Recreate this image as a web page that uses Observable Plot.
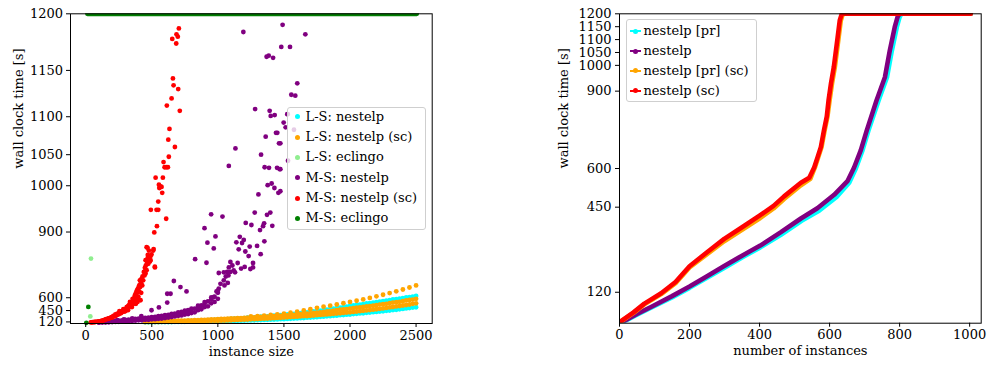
<!DOCTYPE html>
<html><head><meta charset="utf-8">
<script src="https://cdn.jsdelivr.net/npm/d3@7"></script>
<script src="https://cdn.jsdelivr.net/npm/@observablehq/plot@0.6"></script>
<style>
body{margin:0;background:#fff;}
#wrap{position:relative;width:987px;height:365px;font-family:"DejaVu Serif",serif;background:#fff;overflow:hidden;}
#wrap svg text{font-family:"DejaVu Serif",serif;}
#left,#right{position:absolute;top:0;}
#left{left:0}#right{left:480px}
.legend{position:absolute;background:rgba(255,255,255,0.8);border:1px solid #cfcfcf;border-radius:3px;box-sizing:border-box;font-size:13px;color:#000;}
.legend .lab{position:absolute;white-space:nowrap;line-height:14px;height:14px;}
.legend .dot{position:absolute;width:5px;height:5px;border-radius:50%;}
.legend .ln{position:absolute;height:2px;}
</style></head><body>
<div id="wrap"><div id="left"></div><div id="right"></div></div>
<script>
// ---------- tick labels ----------
const leftXTicks = [0, 500, 1000, 1500, 2000, 2500];
const rightXTicks = [0, 200, 400, 600, 800, 1000];
const yTicks = [120, 450, 600, 900, 1000, 1050, 1100, 1150, 1200];

// ---------- left panel: instance sizes ----------
const lsSizes = [450,500,550,600,650,700,750,800,850,900,950,1000,1050,1100,1150,1200,1250,1300,1350,1400,1450,1500,1550,1600,1650,1700,1750,1800,1850,1900,1950,2000,2050,2100,2150,2200,2250,2300,2350,2400,2450,2500];
const lsSizesMid = [475,525,575,625,675,725,775,825,875,925,975,1025,1075,1125,1175,1225,1275,1325,1375,1425,1475,1525,1575,1625,1675,1725,1775,1825,1875,1925,1975,2025,2075,2125,2175,2225,2275,2325,2375,2425,2475];
const lsSizesUpper = [1250,1300,1350,1400,1450,1500,1550,1600,1650,1700,1750,1800,1850,1900,1950,2000,2050,2100,2150,2200,2250,2300,2350,2400,2450,2500];

// L-S: nestelp (cyan)
const lsNestelpA = [125,130,136,142,150,158,166,176,186,198,212,228,242,256,270,285,300,314,328,342,356,370,384,398,413,428,442,456,470,486,500,515,526,537,548,558,568,578,588,597,606,615];
const lsNestelpA2 = [127,133,140,146,154,161,171,181,193,205,219,236,248,264,277,293,306,322,334,350,362,378,390,406,419,436,448,464,477,494,507,521,530,543,552,564,572,584,591,602,610];
const lsNestelpB = [97,103,109,115,121,127,133,139,145,149,150,155,165,175,185,195,205,215,225,235,245,256,269,282,295,308,321,334,347,360,373,386,398,410,422,434,446,458,470,482,494];
const lsNestelpC = [92,98,104,110,116,122,128,134,140,146,148,148,158,168,178,188,198,208,218,228,238,248,260,272,285,298,311,324,337,350,363,376,390,402,414,426,438,450,462,474,486,498];
// L-S: nestelp (sc) (orange)
const lsNestelpScA = [330,340,350,365,380,395,412,430,450,470,490,505,518,532,546,560,572,585,598,612,625,638,651,664,677,690];
const lsNestelpScB = [145,150,157,165,172,181,190,200,210,222,235,250,260,270,280,290,300,310,320,330,340,350,362,375,388,400,414,427,440,454,467,480,491,502,513,524,535,546,557,568,579,590];
const lsNestelpScD = [147,154,160,169,175,186,194,206,215,229,241,256,264,277,284,296,304,317,324,337,344,357,367,383,393,409,419,435,446,462,472,487,495,509,517,531,539,553,561,575,583];
const lsNestelpScC = [108,113,120,127,135,143,151,159,167,175,179,186,198,210,222,234,246,258,270,282,294,306,318,330,342,354,366,378,390,402,414,426,439,451,464,476,489,501,514,526,539];
const lsNestelpScE = [105,110,116,123,131,139,147,155,163,171,177,182,192,204,216,228,240,252,264,276,288,300,312,324,336,348,360,372,384,396,408,420,432,445,457,470,482,495,508,520,532,545];
// L-S: eclingo (light green)
const lsEclingo = [[40,817],[35,330]];

// M-S: nestelp (purple)
const msSizes = [100,150,200,250,300,350,400,450,500,550,600,650,700,750,800,850,900,950,1000];
const msSizesMid = [125,175,225,275,325,375,425,475,525,575,625,675,725,775,825,875,925,975];
const msNestelpBand = [101,115,135,160,185,212,240,260,279,302,325,352,380,410,440,502,540,585,640];
const msNestelpBandHigh = [112,132,156,186,214,242,268,292,312,338,362,388,418,448,478,518,558,602,656];
const msNestelpBandLow = [70,90,110,130,150,175,200,220,240,260,285,315,345,375,405,455,500,545,590];
const msNestelpUpper = [130,150,175,200,230,255,280,300,320,345,370,395,425,455,480,520,565,610];
const msNestelpLower = [80,100,120,140,160,185,205,225,245,270,300,330,355,385,420,470,510,560];
const msNestelpScatter = [[1490,1191],[1193,1185],[1662,1183],[1480,1172],[1546,1172],[1369,1163],[1385,1164],[1418,1162],[1601,1137],[1556,1125],[1586,1124],[1282,1109],[1392,1107],[1400,1101],[1430,1102],[1498,1093],[1513,1087],[1526,1103],[1440,1080],[1450,1080],[1362,1075],[1463,1066],[1133,1059],[1327,1050],[1083,1033],[1354,1031],[1387,1030],[1448,1030],[1468,1028],[1377,1001],[1407,1004],[1428,996],[1458,987],[1307,984],[1279,947],[1372,942],[1397,947],[949,943],[1035,938],[1211,923],[1254,918],[1342,915],[1412,916],[1319,905],[1350,922],[899,910],[982,888],[921,870],[969,852],[1140,871],[1166,887],[1196,878],[1241,858],[1297,860],[1352,874],[1324,833],[1158,849],[1233,826],[1266,800],[1208,842],[1183,869],[828,815],[914,801],[1095,804],[1083,782],[1120,769],[1176,777],[1203,784],[1266,782],[1246,775],[1007,757],[1045,760],[1070,762],[667,716],[617,633],[642,633],[763,650],[717,680],[617,553],[554,495],[498,454],[421,340],[352,270],[289,240],[239,210],[1045,720],[1095,762],[1007,670],[969,606],[1060,740],[1020,700],[990,650],[1080,745],[1110,790],[1130,760],[1150,800],[1050,690],[1075,705],[1576,1084],[1531,1041],[1473,1066],[1473,1028],[1473,990],[1528,1103]];

// M-S: nestelp (sc) (red)
const msNestelpSc = [[705,1188],[655,1179],[687,1183],[697,1181],[685,1175],[660,1142],[665,1135],[700,1131],[650,1121],[614,1113],[712,1107],[634,1085],[625,1071],[675,1061],[629,1047],[589,1039],[597,1031],[609,1031],[622,1031],[529,1014],[584,1014],[554,1002],[566,999],[557,996],[574,998],[579,987],[549,970],[493,953],[536,953],[549,953],[609,933],[539,915],[519,899],[468,854],[514,850],[498,832],[478,811],[486,806],[474,797],[524,782],[448,780],[461,770],[440,762],[453,755],[461,856],[478,845],[511,845],[491,826],[470,820],[453,811],[491,811],[523,785],[421,726],[453,769],[415,700],[402,680],[390,659],[378,633],[395,606],[365,592],[352,560],[340,543],[327,523],[315,502],[289,454],[277,432],[252,402],[239,370],[214,330],[189,290],[164,255],[138,207],[113,159],[88,130],[38,90],[50,100],[63,110],[75,120],[100,140],[125,180],[150,230],[175,270],[200,300],[225,340],[250,380],[265,400],[290,430],[300,470],[310,480],[320,510],[335,530],[345,555],[360,575],[370,600],[380,620],[385,650],[395,670],[405,690],[410,720],[430,740],[260,420],[280,445],[230,360],[205,320],[180,280],[155,245],[130,190],[105,150],[60,105],[415,577],[392,560],[380,540],[300,440],[310,500],[325,490],[335,560],[345,520],[355,590],[362,540],[372,620],[382,580],[388,640],[398,610],[405,650],[412,680],[420,700],[428,690],[435,720],[445,745],[455,790],[465,800],[470,830],[285,470],[270,410],[255,440],[240,395],[225,380],[210,345],[195,310],[170,260],[145,220],[120,170],[95,140],[70,115],[45,95],[320,455],[350,500],[375,545],[400,585],[420,640]];

// M-S: eclingo (green)
const msEclingo = [[20,502],[5,60]];
const msEclingoTimeouts = [[13,1200],[2505,1200]];

// ---------- right panel: cactus (number of instances, wall clock time) ----------
const cactusNestelpPr = [[0,0],[20,12],[50,33],[90,60],[150,100],[200,137],[250,176],[300,215],[350,255],[402,294],[461,343],[520,397],[570,436],[620,490],[656,545],[675,600],[694,670],[711,747],[740,864],[764,954],[778,1058],[792,1148],[800,1187],[805,1200],[1003,1200]];
const cactusNestelp = [[0,0],[20,14],[50,36],[90,63],[150,105],[200,142],[250,182],[299,222],[350,262],[402,301],[461,353],[518,406],[565,446],[613,498],[651,551],[670,604],[689,670],[706,747],[734,864],[758,954],[772,1058],[786,1148],[794,1187],[800,1200],[1003,1200]];
const cactusNestelpPrSc = [[0,3],[40,40],[71,73],[119,113],[160,155],[200,216],[250,268],[299,318],[350,362],[402,408],[440,445],[470,482],[518,535],[545,560],[558,604],[568,645],[577,683],[586,749],[594,802],[600,864],[607,930],[615,993],[626,1109],[632,1174],[638,1200],[1003,1200]];
const cactusNestelpSc = [[0,4],[40,42],[71,76],[119,116],[160,160],[200,221],[250,275],[299,327],[350,372],[402,419],[440,455],[470,492],[518,545],[542,564],[556,604],[566,645],[575,683],[584,749],[592,802],[597,864],[604,930],[612,993],[623,1109],[629,1174],[635,1200],[1003,1200]];

// ---------- helpers ----------
const T = v => Math.exp(v / 250);          // left y axis warping
const Tinv = u => 250 * Math.log(u);
const zip = (xs, ys) => xs.map((x, i) => [x, ys[i]]);
const R = 2.4;
const font = {fontFamily: "'DejaVu Serif', serif", fontSize: "13px", color: "black", background: "transparent", overflow: "visible"};
const dotL = (data, fill) => Plot.dot(data, {x: d => d[0], y: d => T(d[1]), r: R, fill, stroke: "none"});

const leftPlot = Plot.plot({
  width: 480, height: 365,
  marginLeft: 70, marginRight: 48.3, marginTop: 13.3, marginBottom: 42,
  style: font,
  x: {domain: [-115, 2622]},
  y: {domain: [T(0), T(1200)]},
  marks: [
    dotL(zip(lsSizes, lsNestelpA), "cyan"),
    dotL(zip(lsSizesMid, lsNestelpA2), "cyan"),
    dotL(zip(lsSizesMid, lsNestelpB), "cyan"),
    dotL(zip(lsSizes, lsNestelpC), "cyan"),
    dotL(zip(lsSizesUpper, lsNestelpScA), "orange"),
    dotL(zip(lsSizes, lsNestelpScB), "orange"),
    dotL(zip(lsSizesMid, lsNestelpScD), "orange"),
    dotL(zip(lsSizesMid, lsNestelpScC), "orange"),
    dotL(zip(lsSizes, lsNestelpScE), "orange"),
    dotL(lsEclingo, "lightgreen"),
    dotL(zip(msSizes, msNestelpBand), "purple"),
    dotL(zip(msSizes, msNestelpBandHigh), "purple"),
    dotL(zip(msSizes, msNestelpBandLow), "purple"),
    dotL(zip(msSizesMid, msNestelpUpper), "purple"),
    dotL(zip(msSizesMid, msNestelpLower), "purple"),
    dotL(msNestelpScatter, "purple"),
    dotL(msNestelpSc, "red"),
    dotL(msEclingo, "green"),
    Plot.line(msEclingoTimeouts, {x: d => d[0], y: d => T(d[1]), stroke: "green", strokeWidth: 4.8, strokeLinecap: "round", clip: true}),
    Plot.frame({stroke: "black", strokeWidth: 1}),
    Plot.axisX({ticks: leftXTicks, tickSize: 4, tickPadding: 3, tickFormat: d => String(d), label: null}),
    Plot.axisY({ticks: yTicks.map(T), tickSize: 4, tickPadding: 3.5, tickFormat: d => String(Math.round(Tinv(d))), label: null}),
    Plot.text(["wall clock time [s]"], {text: d => d, frameAnchor: "left", dx: -52, rotate: -90}),
    Plot.text(["instance size"], {text: d => d, frameAnchor: "bottom", dy: 32})
  ]
});
document.getElementById("left").appendChild(leftPlot);

const lineR = (data, stroke) => Plot.line(data, {x: d => d[0], y: d => d[1], stroke, strokeWidth: 4.6, strokeLinejoin: "round", strokeLinecap: "round", clip: true});
const rightPlot = Plot.plot({
  width: 507, height: 365,
  marginLeft: 139, marginRight: 6.3, marginTop: 13.3, marginBottom: 42.3,
  style: font,
  x: {domain: [0, 1033]},
  y: {domain: [0, 1200]},
  marks: [
    lineR(cactusNestelpPr, "cyan"),
    lineR(cactusNestelp, "purple"),
    lineR(cactusNestelpPrSc, "orange"),
    lineR(cactusNestelpSc, "red"),
    Plot.frame({stroke: "black", strokeWidth: 1}),
    Plot.axisX({ticks: rightXTicks, tickSize: 4, tickPadding: 3, tickFormat: d => String(d), label: null}),
    Plot.axisY({ticks: yTicks, tickSize: 4, tickPadding: 4, tickFormat: d => String(d), label: null}),
    Plot.text(["wall clock time [s]"], {text: d => d, frameAnchor: "left", dx: -55.5, rotate: -90}),
    Plot.text(["number of instances"], {text: d => d, frameAnchor: "bottom", dy: 32})
  ]
});
document.getElementById("right").appendChild(rightPlot);

// ---------- legends ----------
const leftLegend = [["L-S: nestelp", "cyan"], ["L-S: nestelp (sc)", "orange"], ["L-S: eclingo", "lightgreen"], ["M-S: nestelp", "purple"], ["M-S: nestelp (sc)", "red"], ["M-S: eclingo", "green"]];
const rightLegend = [["nestelp [pr]", "cyan"], ["nestelp", "purple"], ["nestelp [pr] (sc)", "orange"], ["nestelp (sc)", "red"]];
const wrap = document.getElementById("wrap");
function legend(items, box, rows, markerLine) {
  const el = document.createElement("div");
  el.className = "legend";
  Object.assign(el.style, {left: box[0] + "px", top: box[1] + "px", width: box[2] + "px", height: box[3] + "px"});
  items.forEach(([label, color], i) => {
    const cy = rows[0] + i * rows[1];
    if (markerLine) {
      const ln = document.createElement("div"); ln.className = "ln";
      Object.assign(ln.style, {left: "3px", top: (cy - 1) + "px", width: "11px", background: color});
      el.appendChild(ln);
    }
    const dt = document.createElement("div"); dt.className = "dot";
    Object.assign(dt.style, {left: (markerLine ? 6 : 6.5) + "px", top: (cy - 2.5) + "px", background: color});
    el.appendChild(dt);
    const lb = document.createElement("div"); lb.className = "lab";
    lb.textContent = label;
    Object.assign(lb.style, {left: (markerLine ? 17 : 17.5) + "px", top: (cy - 7) + "px"});
    el.appendChild(lb);
  });
  wrap.appendChild(el);
}
legend(leftLegend, [287, 106.5, 139, 123], [9.3, 20.3], false);
legend(rightLegend, [625.5, 19.3, 131.5, 83], [11.2, 19.7], true);
</script>
</body></html>
